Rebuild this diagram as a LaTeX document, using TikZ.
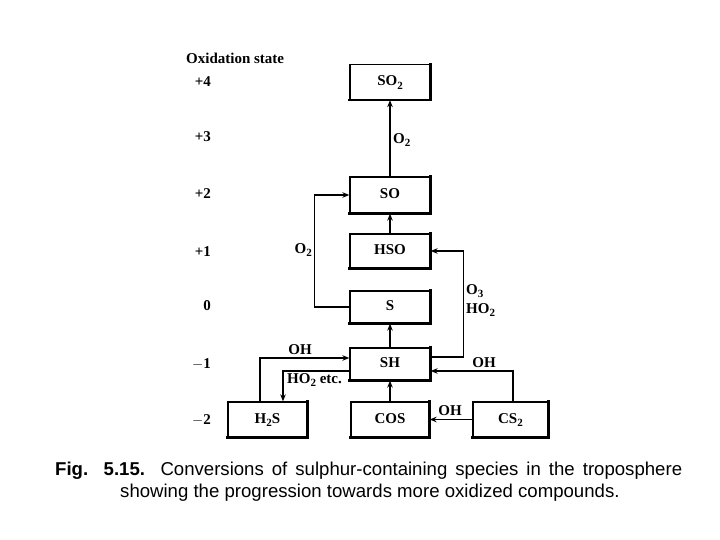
\documentclass[tikz,border=0pt]{standalone}
\usepackage{fontspec}
\setmainfont{Liberation Serif}
\newfontfamily\capfont{Liberation Sans}
\usetikzlibrary{arrows.meta,calc}
\newcommand\chsub[1]{\raisebox{-0.55ex}{\fontsize{11}{11}\selectfont #1}}
\begin{document}
\begin{tikzpicture}[x=1pt,y=-1pt,
  txt/.style={font=\bfseries\fontsize{15}{17}\selectfont},
  box/.style={draw, line width=1.3pt, minimum width=80pt, minimum height=34pt, inner sep=0pt, text height=10.5pt, text depth=3.5pt, txt},
  shade/.style={line width=2.4pt, line cap=rect},
  arr/.style={-{Stealth[length=7pt,width=5.5pt]}, line width=1.1pt},
  lab/.style={txt, inner sep=1pt},
  ox/.style={txt, anchor=east, inner sep=0pt},
  capt/.style={font=\capfont\fontsize{18.6}{22}\selectfont, inner sep=0pt, anchor=base west}]
\useasboundingbox (0,0) rectangle (720,540);
% oxidation states
\node[txt, anchor=west, inner sep=0pt] (oxtitle) at (186,58) {Oxidation state};
\node[ox] (o4) at (211,82) {+4};
\node[ox] (o3) at (211,137) {+3};
\node[ox] (o2) at (211,194) {+2};
\node[ox] (o1) at (211,252) {+1};
\node[ox] (o0) at (211,306) {0};
\node[ox] (om1) at (211,364) {$-$1};
\node[ox] (om2) at (211,420) {$-$2};
% boxes
\node[box, minimum height=35pt] (SO2) at (390,82) {SO\chsub{2}};
\node[box, minimum height=36pt] (SO) at (390,195) {SO};
\node[box] (HSO) at (390,251) {HSO};
\node[box, minimum height=32pt] (S) at (390,307) {S};
\node[box, minimum height=32pt] (SH) at (390,364) {SH};
\node[box, minimum width=79pt, minimum height=35pt] (H2S) at (267.5,419.5) {H\chsub{2}S};
\node[box, minimum width=78pt, minimum height=35pt] (COS) at (390,419.5) {COS};
\node[box, minimum width=75pt, minimum height=35pt] (CS2) at (510.5,419.5) {CS\chsub{2}};
\foreach \b in {SO2,SO,HSO,S,SH,H2S,COS,CS2}
  \draw[shade] (\b.north east) -- (\b.south east) -- (\b.south west);
% vertical chain
\draw[arr] (SO.north) -- (SO2.south);
\node[lab, anchor=west] (lO2a) at (392,140) {O\chsub{2}};
\draw[arr] (HSO.north) -- (SO.south);
\draw[arr] (SH.north) -- (S.south);
\draw[arr] (COS.north) -- (SH.south);
% S -> SO
\draw[arr] (S.west) -- ++(-35,0) |- (SO.west);
\node[lab, anchor=east] (lO2b) at (313,250) {O\chsub{2}};
% SH -> HSO
\draw[arr] ($(SH.east)+(0,-7)$) -- ++(33,0) |- (HSO.east);
\node[lab, anchor=north west, align=left] (lO3) at (465,283) {O\chsub{3}\\[2pt]HO\chsub{2}};
% CS2 -> SH
\draw[arr] ($(CS2.north)+(2.5,0)$) |- ($(SH.east)+(0,7)$);
\node[lab, anchor=south] (lOHa) at (484,369) {OH};
% CS2 -> COS
\draw[arr] (CS2.west) -- (COS.east);
\node[lab, anchor=south] (lOHb) at (450,417) {OH};
% H2S -> SH
\draw[arr] ($(H2S.north)+(-7.5,0)$) |- ($(SH.west)+(0,-6)$);
\node[lab, anchor=south] (lOHc) at (300,356) {OH};
% SH -> H2S
\draw[arr] ($(SH.west)+(0,7)$) -| ($(H2S.north)+(15.5,0)$);
\node[lab, anchor=north west] (lHO2) at (286,372) {HO\chsub{2} etc.};
% caption
\node[capt] (cap1) at (55,475) {\makebox[627pt][s]{\textbf{Fig. 5.15.} Conversions of sulphur-containing species in the troposphere}};
\node[capt] (cap2) at (120,497) {showing the progression towards more oxidized compounds.};
\end{tikzpicture}
\end{document}
